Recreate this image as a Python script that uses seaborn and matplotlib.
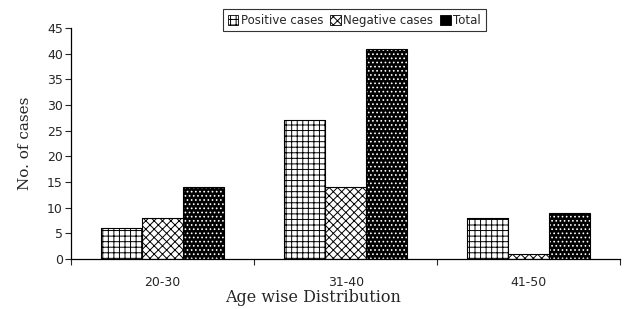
import seaborn as sns
import matplotlib.pyplot as plt
import pandas as pd

# values
age_groups = ["20-30", "31-40", "41-50"]
positive = [6, 27, 8]
negative = [8, 14, 1]
total = [14, 41, 9]
series_names = ["Positive cases", "Negative cases", "Total"]

df = pd.DataFrame({
    "age": age_groups * 3,
    "cases": positive + negative + total,
    "series": [s for s in series_names for _ in age_groups],
})

sns.set_style("ticks")
plt.rcParams["font.family"] = ["DejaVu Sans"]
plt.rcParams["hatch.linewidth"] = 0.7

fig = plt.figure(figsize=(6.24, 3.09), dpi=100)
ax = fig.add_axes([0.114, 0.162, 0.880, 0.747])

sns.barplot(data=df, x="age", y="cases", hue="series", ax=ax,
            width=0.67, gap=0, legend=False)

# pattern fills like the original
styles = [
    dict(facecolor="white", edgecolor="black", hatch="+++"),
    dict(facecolor="white", edgecolor="black", hatch="xxxx"),
    dict(facecolor="black", edgecolor="white", hatch="...."),
]
for cont, st in zip(ax.containers, styles):
    for bar in cont:
        bar.set_facecolor(st["facecolor"])
        bar.set_edgecolor(st["edgecolor"])
        bar.set_hatch(st["hatch"])
        bar.set_linewidth(0.7)
        # black outline on top (hatch colour follows edgecolor)
        ax.add_patch(plt.Rectangle(bar.get_xy(), bar.get_width(), bar.get_height(),
                                   fill=False, edgecolor="black", linewidth=0.8))

ax.set_ylim(0, 45)
ax.set_yticks(range(0, 46, 5))
ax.set_xlim(-0.5, 2.5)
ax.set_xticks([-0.5, 0.5, 1.5, 2.5], minor=False)
ax.set_xticklabels([])
ax.set_xticks([0, 1, 2], minor=True)
ax.set_xticklabels(age_groups, minor=True)
ax.tick_params(axis="x", which="minor", length=0, pad=12, labelsize=9)
ax.tick_params(axis="x", which="major", length=4, width=0.8, direction="out")
ax.tick_params(axis="y", labelsize=9, length=4, width=0.8, pad=2)
sns.despine(ax=ax)
for sp in ("left", "bottom"):
    ax.spines[sp].set_linewidth(0.9)
    ax.spines[sp].set_color("black")

ax.set_xlabel("Age wise Distribution", family="DejaVu Serif", fontsize=11.5)
ax.set_ylabel("No. of cases", family="DejaVu Serif", fontsize=11)
ax.xaxis.set_label_coords(0.44, -0.13)
ax.yaxis.set_label_coords(-0.072, 0.5)

handles = [plt.Rectangle((0, 0), 1, 1, linewidth=0.6, **st) for st in styles]
handles[2].set_edgecolor("black")
leg = fig.legend(handles, series_names, loc="upper center", ncol=3,
                 bbox_to_anchor=(0.568, 0.99), frameon=True, fancybox=False,
                 fontsize=8.5, handlelength=0.9, handleheight=0.9,
                 handletextpad=0.2, columnspacing=0.6, borderpad=0.4,
                 edgecolor="black")
leg.get_frame().set_linewidth(0.8)

fig.savefig("out.png", dpi=100)
